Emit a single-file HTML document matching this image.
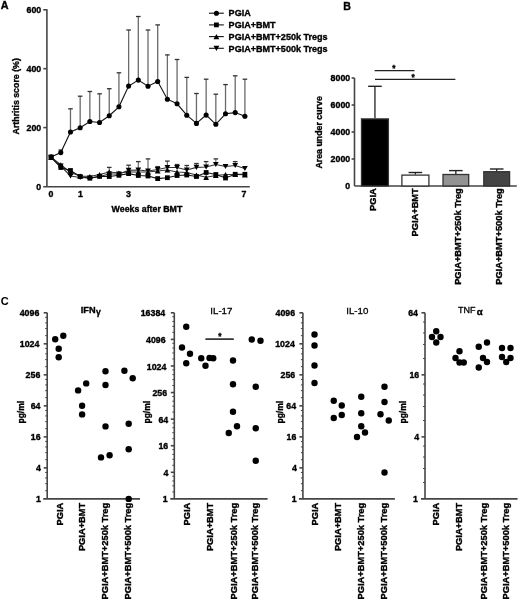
<!DOCTYPE html>
<html><head><meta charset="utf-8"><style>
html,body{margin:0;padding:0;background:#fff;}
body{width:520px;height:600px;overflow:hidden;}
svg{display:block;font-family:"Liberation Sans",sans-serif;filter:blur(0.3px);}
</style></head><body>
<svg width="520" height="600" viewBox="0 0 520 600">
<rect width="520" height="600" fill="#fff"/>
<text x="0.70" y="9.10" font-size="10.8" text-anchor="start" font-weight="bold" fill="#000" stroke="#000" stroke-width="0.35">A</text>
<text x="343.30" y="9.80" font-size="10.6" text-anchor="start" font-weight="bold" fill="#000" stroke="#000" stroke-width="0.35">B</text>
<text x="0.70" y="305.00" font-size="11.0" text-anchor="start" font-weight="bold" fill="#000" stroke="#000" stroke-width="0.05">C</text>
<line x1="46.90" y1="9.30" x2="46.90" y2="186.50" stroke="#454545" stroke-width="1.6"/>
<line x1="43.20" y1="186.80" x2="249.80" y2="186.80" stroke="#454545" stroke-width="1.6"/>
<line x1="43.30" y1="127.60" x2="46.90" y2="127.60" stroke="#454545" stroke-width="1.6"/>
<line x1="43.30" y1="68.70" x2="46.90" y2="68.70" stroke="#454545" stroke-width="1.6"/>
<line x1="43.30" y1="9.80" x2="46.90" y2="9.80" stroke="#454545" stroke-width="1.6"/>
<text x="41.20" y="189.85" font-size="8.8" text-anchor="end" font-weight="bold" fill="#000" stroke="#000" stroke-width="0.35">0</text>
<text x="41.20" y="130.95" font-size="8.8" text-anchor="end" font-weight="bold" fill="#000" stroke="#000" stroke-width="0.35">200</text>
<text x="41.20" y="72.05" font-size="8.8" text-anchor="end" font-weight="bold" fill="#000" stroke="#000" stroke-width="0.35">400</text>
<text x="41.20" y="13.15" font-size="8.8" text-anchor="end" font-weight="bold" fill="#000" stroke="#000" stroke-width="0.35">600</text>
<text x="51.00" y="196.55" font-size="8.8" text-anchor="middle" font-weight="bold" fill="#000" stroke="#000" stroke-width="0.35">0</text>
<text x="80.40" y="196.55" font-size="8.8" text-anchor="middle" font-weight="bold" fill="#000" stroke="#000" stroke-width="0.35">1</text>
<text x="128.40" y="196.55" font-size="8.8" text-anchor="middle" font-weight="bold" fill="#000" stroke="#000" stroke-width="0.35">3</text>
<text x="244.00" y="196.55" font-size="8.8" text-anchor="middle" font-weight="bold" fill="#000" stroke="#000" stroke-width="0.35">7</text>
<text x="111.60" y="212.15" font-size="8.8" text-anchor="start" font-weight="bold" fill="#000" stroke="#000" stroke-width="0.35">Weeks after BMT</text>
<text x="19.30" y="96.30" font-size="8.8" text-anchor="middle" font-weight="bold" fill="#000" stroke="#000" stroke-width="0.35" transform="rotate(-90 19.3 96.3)">Arthritis score (%)</text>
<line x1="60.79" y1="152.60" x2="60.79" y2="150.00" stroke="#6a6a6a" stroke-width="1.3"/>
<line x1="58.49" y1="150.00" x2="63.09" y2="150.00" stroke="#333" stroke-width="1.3"/>
<line x1="70.48" y1="132.00" x2="70.48" y2="108.80" stroke="#6a6a6a" stroke-width="1.3"/>
<line x1="68.18" y1="108.80" x2="72.78" y2="108.80" stroke="#333" stroke-width="1.3"/>
<line x1="80.17" y1="127.70" x2="80.17" y2="96.20" stroke="#6a6a6a" stroke-width="1.3"/>
<line x1="77.87" y1="96.20" x2="82.47" y2="96.20" stroke="#333" stroke-width="1.3"/>
<line x1="89.86" y1="121.50" x2="89.86" y2="91.50" stroke="#6a6a6a" stroke-width="1.3"/>
<line x1="87.56" y1="91.50" x2="92.16" y2="91.50" stroke="#333" stroke-width="1.3"/>
<line x1="99.55" y1="122.50" x2="99.55" y2="93.80" stroke="#6a6a6a" stroke-width="1.3"/>
<line x1="97.25" y1="93.80" x2="101.85" y2="93.80" stroke="#333" stroke-width="1.3"/>
<line x1="109.24" y1="115.70" x2="109.24" y2="88.70" stroke="#6a6a6a" stroke-width="1.3"/>
<line x1="106.94" y1="88.70" x2="111.54" y2="88.70" stroke="#333" stroke-width="1.3"/>
<line x1="118.93" y1="106.80" x2="118.93" y2="72.80" stroke="#6a6a6a" stroke-width="1.3"/>
<line x1="116.63" y1="72.80" x2="121.23" y2="72.80" stroke="#333" stroke-width="1.3"/>
<line x1="128.62" y1="86.10" x2="128.62" y2="30.00" stroke="#6a6a6a" stroke-width="1.3"/>
<line x1="126.32" y1="30.00" x2="130.92" y2="30.00" stroke="#333" stroke-width="1.3"/>
<line x1="138.31" y1="80.10" x2="138.31" y2="16.50" stroke="#6a6a6a" stroke-width="1.3"/>
<line x1="136.01" y1="16.50" x2="140.61" y2="16.50" stroke="#333" stroke-width="1.3"/>
<line x1="148.00" y1="86.20" x2="148.00" y2="30.00" stroke="#6a6a6a" stroke-width="1.3"/>
<line x1="145.70" y1="30.00" x2="150.30" y2="30.00" stroke="#333" stroke-width="1.3"/>
<line x1="157.69" y1="81.50" x2="157.69" y2="24.90" stroke="#6a6a6a" stroke-width="1.3"/>
<line x1="155.39" y1="24.90" x2="159.99" y2="24.90" stroke="#333" stroke-width="1.3"/>
<line x1="167.38" y1="99.20" x2="167.38" y2="54.90" stroke="#6a6a6a" stroke-width="1.3"/>
<line x1="165.08" y1="54.90" x2="169.68" y2="54.90" stroke="#333" stroke-width="1.3"/>
<line x1="177.07" y1="103.80" x2="177.07" y2="59.50" stroke="#6a6a6a" stroke-width="1.3"/>
<line x1="174.77" y1="59.50" x2="179.37" y2="59.50" stroke="#333" stroke-width="1.3"/>
<line x1="186.76" y1="115.20" x2="186.76" y2="77.40" stroke="#6a6a6a" stroke-width="1.3"/>
<line x1="184.46" y1="77.40" x2="189.06" y2="77.40" stroke="#333" stroke-width="1.3"/>
<line x1="196.45" y1="123.40" x2="196.45" y2="93.50" stroke="#6a6a6a" stroke-width="1.3"/>
<line x1="194.15" y1="93.50" x2="198.75" y2="93.50" stroke="#333" stroke-width="1.3"/>
<line x1="206.14" y1="115.10" x2="206.14" y2="79.20" stroke="#6a6a6a" stroke-width="1.3"/>
<line x1="203.84" y1="79.20" x2="208.44" y2="79.20" stroke="#333" stroke-width="1.3"/>
<line x1="215.83" y1="124.30" x2="215.83" y2="94.20" stroke="#6a6a6a" stroke-width="1.3"/>
<line x1="213.53" y1="94.20" x2="218.13" y2="94.20" stroke="#333" stroke-width="1.3"/>
<line x1="225.52" y1="113.80" x2="225.52" y2="84.60" stroke="#6a6a6a" stroke-width="1.3"/>
<line x1="223.22" y1="84.60" x2="227.82" y2="84.60" stroke="#333" stroke-width="1.3"/>
<line x1="235.21" y1="112.60" x2="235.21" y2="75.80" stroke="#6a6a6a" stroke-width="1.3"/>
<line x1="232.91" y1="75.80" x2="237.51" y2="75.80" stroke="#333" stroke-width="1.3"/>
<line x1="244.90" y1="116.20" x2="244.90" y2="79.20" stroke="#6a6a6a" stroke-width="1.3"/>
<line x1="242.60" y1="79.20" x2="247.20" y2="79.20" stroke="#333" stroke-width="1.3"/>
<line x1="109.24" y1="172.00" x2="109.24" y2="167.40" stroke="#6a6a6a" stroke-width="1.2"/>
<line x1="106.94" y1="167.40" x2="111.54" y2="167.40" stroke="#333" stroke-width="1.3"/>
<line x1="128.62" y1="170.40" x2="128.62" y2="165.20" stroke="#6a6a6a" stroke-width="1.2"/>
<line x1="126.32" y1="165.20" x2="130.92" y2="165.20" stroke="#333" stroke-width="1.3"/>
<line x1="138.31" y1="170.00" x2="138.31" y2="161.60" stroke="#6a6a6a" stroke-width="1.2"/>
<line x1="136.01" y1="161.60" x2="140.61" y2="161.60" stroke="#333" stroke-width="1.3"/>
<line x1="148.00" y1="171.00" x2="148.00" y2="158.90" stroke="#6a6a6a" stroke-width="1.2"/>
<line x1="145.70" y1="158.90" x2="150.30" y2="158.90" stroke="#333" stroke-width="1.3"/>
<line x1="157.69" y1="169.50" x2="157.69" y2="166.60" stroke="#6a6a6a" stroke-width="1.2"/>
<line x1="155.39" y1="166.60" x2="159.99" y2="166.60" stroke="#333" stroke-width="1.3"/>
<line x1="167.38" y1="167.50" x2="167.38" y2="161.10" stroke="#6a6a6a" stroke-width="1.2"/>
<line x1="165.08" y1="161.10" x2="169.68" y2="161.10" stroke="#333" stroke-width="1.3"/>
<line x1="177.07" y1="167.50" x2="177.07" y2="164.50" stroke="#6a6a6a" stroke-width="1.2"/>
<line x1="174.77" y1="164.50" x2="179.37" y2="164.50" stroke="#333" stroke-width="1.3"/>
<line x1="186.76" y1="170.00" x2="186.76" y2="165.50" stroke="#6a6a6a" stroke-width="1.2"/>
<line x1="184.46" y1="165.50" x2="189.06" y2="165.50" stroke="#333" stroke-width="1.3"/>
<line x1="196.45" y1="167.40" x2="196.45" y2="163.50" stroke="#6a6a6a" stroke-width="1.2"/>
<line x1="194.15" y1="163.50" x2="198.75" y2="163.50" stroke="#333" stroke-width="1.3"/>
<line x1="206.14" y1="167.00" x2="206.14" y2="161.60" stroke="#6a6a6a" stroke-width="1.2"/>
<line x1="203.84" y1="161.60" x2="208.44" y2="161.60" stroke="#333" stroke-width="1.3"/>
<line x1="215.83" y1="164.50" x2="215.83" y2="158.90" stroke="#6a6a6a" stroke-width="1.2"/>
<line x1="213.53" y1="158.90" x2="218.13" y2="158.90" stroke="#333" stroke-width="1.3"/>
<line x1="225.52" y1="166.50" x2="225.52" y2="165.00" stroke="#6a6a6a" stroke-width="1.2"/>
<line x1="223.22" y1="165.00" x2="227.82" y2="165.00" stroke="#333" stroke-width="1.3"/>
<line x1="235.21" y1="165.50" x2="235.21" y2="161.60" stroke="#6a6a6a" stroke-width="1.2"/>
<line x1="232.91" y1="161.60" x2="237.51" y2="161.60" stroke="#333" stroke-width="1.3"/>
<polyline points="51.10,157.30 60.79,164.80 70.48,172.50 80.17,176.00 89.86,176.50 99.55,174.50 109.24,172.00 118.93,173.00 128.62,172.00 138.31,172.00 148.00,172.00 157.69,171.00 167.38,170.00 177.07,172.00 186.76,172.50 196.45,175.00 206.14,177.30 215.83,175.50 225.52,174.50 235.21,174.50 244.90,174.80" fill="none" stroke="#333" stroke-width="1.1"/>
<polyline points="51.10,157.30 60.79,166.00 70.48,176.00 80.17,177.50 89.86,178.00 99.55,176.50 109.24,174.00 118.93,174.00 128.62,170.40 138.31,170.00 148.00,171.00 157.69,169.50 167.38,167.50 177.07,167.50 186.76,170.00 196.45,167.40 206.14,167.00 215.83,164.50 225.52,166.50 235.21,165.50 244.90,168.50" fill="none" stroke="#333" stroke-width="1.1"/>
<polyline points="51.10,157.30 60.79,167.50 70.48,170.50 80.17,176.50 89.86,178.20 99.55,176.40 109.24,176.50 118.93,175.30 128.62,173.60 138.31,175.50 148.00,176.00 157.69,178.60 167.38,177.70 177.07,175.50 186.76,175.00 196.45,176.50 206.14,172.50 215.83,174.50 225.52,178.00 235.21,174.30 244.90,174.30" fill="none" stroke="#111" stroke-width="1.1"/>
<polyline points="51.10,156.90 60.79,152.60 70.48,132.00 80.17,127.70 89.86,121.50 99.55,122.50 109.24,115.70 118.93,106.80 128.62,86.10 138.31,80.10 148.00,86.20 157.69,81.50 167.38,99.20 177.07,103.80 186.76,115.20 196.45,123.40 206.14,115.10 215.83,124.30 225.52,113.80 235.21,112.60 244.90,116.20" fill="none" stroke="#111" stroke-width="1.1"/>
<path d="M48.20,159.91L54.00,159.91L51.10,154.69Z" fill="#000"/>
<path d="M57.89,167.41L63.69,167.41L60.79,162.19Z" fill="#000"/>
<path d="M67.58,175.11L73.38,175.11L70.48,169.89Z" fill="#000"/>
<path d="M77.27,178.61L83.07,178.61L80.17,173.39Z" fill="#000"/>
<path d="M86.96,179.11L92.76,179.11L89.86,173.89Z" fill="#000"/>
<path d="M96.65,177.11L102.45,177.11L99.55,171.89Z" fill="#000"/>
<path d="M106.34,174.61L112.14,174.61L109.24,169.39Z" fill="#000"/>
<path d="M116.03,175.61L121.83,175.61L118.93,170.39Z" fill="#000"/>
<path d="M125.72,174.61L131.52,174.61L128.62,169.39Z" fill="#000"/>
<path d="M135.41,174.61L141.21,174.61L138.31,169.39Z" fill="#000"/>
<path d="M145.10,174.61L150.90,174.61L148.00,169.39Z" fill="#000"/>
<path d="M154.79,173.61L160.59,173.61L157.69,168.39Z" fill="#000"/>
<path d="M164.48,172.61L170.28,172.61L167.38,167.39Z" fill="#000"/>
<path d="M174.17,174.61L179.97,174.61L177.07,169.39Z" fill="#000"/>
<path d="M183.86,175.11L189.66,175.11L186.76,169.89Z" fill="#000"/>
<path d="M193.55,177.61L199.35,177.61L196.45,172.39Z" fill="#000"/>
<path d="M203.24,179.91L209.04,179.91L206.14,174.69Z" fill="#000"/>
<path d="M212.93,178.11L218.73,178.11L215.83,172.89Z" fill="#000"/>
<path d="M222.62,177.11L228.42,177.11L225.52,171.89Z" fill="#000"/>
<path d="M232.31,177.11L238.11,177.11L235.21,171.89Z" fill="#000"/>
<path d="M242.00,177.41L247.80,177.41L244.90,172.19Z" fill="#000"/>
<path d="M48.20,154.69L54.00,154.69L51.10,159.91Z" fill="#000"/>
<path d="M57.89,163.39L63.69,163.39L60.79,168.61Z" fill="#000"/>
<path d="M67.58,173.39L73.38,173.39L70.48,178.61Z" fill="#000"/>
<path d="M77.27,174.89L83.07,174.89L80.17,180.11Z" fill="#000"/>
<path d="M86.96,175.39L92.76,175.39L89.86,180.61Z" fill="#000"/>
<path d="M96.65,173.89L102.45,173.89L99.55,179.11Z" fill="#000"/>
<path d="M106.34,171.39L112.14,171.39L109.24,176.61Z" fill="#000"/>
<path d="M116.03,171.39L121.83,171.39L118.93,176.61Z" fill="#000"/>
<path d="M125.72,167.79L131.52,167.79L128.62,173.01Z" fill="#000"/>
<path d="M135.41,167.39L141.21,167.39L138.31,172.61Z" fill="#000"/>
<path d="M145.10,168.39L150.90,168.39L148.00,173.61Z" fill="#000"/>
<path d="M154.79,166.89L160.59,166.89L157.69,172.11Z" fill="#000"/>
<path d="M164.48,164.89L170.28,164.89L167.38,170.11Z" fill="#000"/>
<path d="M174.17,164.89L179.97,164.89L177.07,170.11Z" fill="#000"/>
<path d="M183.86,167.39L189.66,167.39L186.76,172.61Z" fill="#000"/>
<path d="M193.55,164.79L199.35,164.79L196.45,170.01Z" fill="#000"/>
<path d="M203.24,164.39L209.04,164.39L206.14,169.61Z" fill="#000"/>
<path d="M212.93,161.89L218.73,161.89L215.83,167.11Z" fill="#000"/>
<path d="M222.62,163.89L228.42,163.89L225.52,169.11Z" fill="#000"/>
<path d="M232.31,162.89L238.11,162.89L235.21,168.11Z" fill="#000"/>
<path d="M242.00,165.89L247.80,165.89L244.90,171.11Z" fill="#000"/>
<rect x="48.70" y="154.90" width="4.8" height="4.8" fill="#000"/>
<rect x="58.39" y="165.10" width="4.8" height="4.8" fill="#000"/>
<rect x="68.08" y="168.10" width="4.8" height="4.8" fill="#000"/>
<rect x="77.77" y="174.10" width="4.8" height="4.8" fill="#000"/>
<rect x="87.46" y="175.80" width="4.8" height="4.8" fill="#000"/>
<rect x="97.15" y="174.00" width="4.8" height="4.8" fill="#000"/>
<rect x="106.84" y="174.10" width="4.8" height="4.8" fill="#000"/>
<rect x="116.53" y="172.90" width="4.8" height="4.8" fill="#000"/>
<rect x="126.22" y="171.20" width="4.8" height="4.8" fill="#000"/>
<rect x="135.91" y="173.10" width="4.8" height="4.8" fill="#000"/>
<rect x="145.60" y="173.60" width="4.8" height="4.8" fill="#000"/>
<rect x="155.29" y="176.20" width="4.8" height="4.8" fill="#000"/>
<rect x="164.98" y="175.30" width="4.8" height="4.8" fill="#000"/>
<rect x="174.67" y="173.10" width="4.8" height="4.8" fill="#000"/>
<rect x="184.36" y="172.60" width="4.8" height="4.8" fill="#000"/>
<rect x="194.05" y="174.10" width="4.8" height="4.8" fill="#000"/>
<rect x="203.74" y="170.10" width="4.8" height="4.8" fill="#000"/>
<rect x="213.43" y="172.10" width="4.8" height="4.8" fill="#000"/>
<rect x="223.12" y="175.60" width="4.8" height="4.8" fill="#000"/>
<rect x="232.81" y="171.90" width="4.8" height="4.8" fill="#000"/>
<rect x="242.50" y="171.90" width="4.8" height="4.8" fill="#000"/>
<circle cx="51.10" cy="156.90" r="2.55" fill="#000"/>
<circle cx="60.79" cy="152.60" r="2.55" fill="#000"/>
<circle cx="70.48" cy="132.00" r="2.55" fill="#000"/>
<circle cx="80.17" cy="127.70" r="2.55" fill="#000"/>
<circle cx="89.86" cy="121.50" r="2.55" fill="#000"/>
<circle cx="99.55" cy="122.50" r="2.55" fill="#000"/>
<circle cx="109.24" cy="115.70" r="2.55" fill="#000"/>
<circle cx="118.93" cy="106.80" r="2.55" fill="#000"/>
<circle cx="128.62" cy="86.10" r="2.55" fill="#000"/>
<circle cx="138.31" cy="80.10" r="2.55" fill="#000"/>
<circle cx="148.00" cy="86.20" r="2.55" fill="#000"/>
<circle cx="157.69" cy="81.50" r="2.55" fill="#000"/>
<circle cx="167.38" cy="99.20" r="2.55" fill="#000"/>
<circle cx="177.07" cy="103.80" r="2.55" fill="#000"/>
<circle cx="186.76" cy="115.20" r="2.55" fill="#000"/>
<circle cx="196.45" cy="123.40" r="2.55" fill="#000"/>
<circle cx="206.14" cy="115.10" r="2.55" fill="#000"/>
<circle cx="215.83" cy="124.30" r="2.55" fill="#000"/>
<circle cx="225.52" cy="113.80" r="2.55" fill="#000"/>
<circle cx="235.21" cy="112.60" r="2.55" fill="#000"/>
<circle cx="244.90" cy="116.20" r="2.55" fill="#000"/>
<line x1="209.00" y1="13.20" x2="223.80" y2="13.20" stroke="#111" stroke-width="1.1"/>
<circle cx="216.40" cy="13.20" r="2.55" fill="#000"/>
<text x="228.60" y="16.44" font-size="9.05" text-anchor="start" font-weight="bold" fill="#000" stroke="#000" stroke-width="0.35">PGIA</text>
<line x1="209.00" y1="24.90" x2="223.80" y2="24.90" stroke="#111" stroke-width="1.1"/>
<rect x="214.00" y="22.50" width="4.8" height="4.8" fill="#000"/>
<text x="228.60" y="28.14" font-size="9.05" text-anchor="start" font-weight="bold" fill="#000" stroke="#000" stroke-width="0.35">PGIA+BMT</text>
<line x1="209.00" y1="36.60" x2="223.80" y2="36.60" stroke="#111" stroke-width="1.1"/>
<path d="M213.50,39.21L219.30,39.21L216.40,33.99Z" fill="#000"/>
<text x="228.60" y="39.84" font-size="9.05" text-anchor="start" font-weight="bold" fill="#000" stroke="#000" stroke-width="0.35">PGIA+BMT+250k Tregs</text>
<line x1="209.00" y1="48.30" x2="223.80" y2="48.30" stroke="#111" stroke-width="1.1"/>
<path d="M213.50,45.69L219.30,45.69L216.40,50.91Z" fill="#000"/>
<text x="228.60" y="51.54" font-size="9.05" text-anchor="start" font-weight="bold" fill="#000" stroke="#000" stroke-width="0.35">PGIA+BMT+500k Tregs</text>
<line x1="354.50" y1="78.00" x2="354.50" y2="186.00" stroke="#454545" stroke-width="1.6"/>
<line x1="354.50" y1="186.00" x2="516.80" y2="186.00" stroke="#454545" stroke-width="1.6"/>
<line x1="351.60" y1="159.00" x2="354.50" y2="159.00" stroke="#454545" stroke-width="1.6"/>
<line x1="351.60" y1="132.00" x2="354.50" y2="132.00" stroke="#454545" stroke-width="1.6"/>
<line x1="351.60" y1="105.00" x2="354.50" y2="105.00" stroke="#454545" stroke-width="1.6"/>
<line x1="351.60" y1="78.00" x2="354.50" y2="78.00" stroke="#454545" stroke-width="1.6"/>
<text x="350.20" y="189.15" font-size="8.8" text-anchor="end" font-weight="bold" fill="#000" stroke="#000" stroke-width="0.35">0</text>
<text x="350.20" y="162.15" font-size="8.8" text-anchor="end" font-weight="bold" fill="#000" stroke="#000" stroke-width="0.35">2000</text>
<text x="350.20" y="135.15" font-size="8.8" text-anchor="end" font-weight="bold" fill="#000" stroke="#000" stroke-width="0.35">4000</text>
<text x="350.20" y="108.15" font-size="8.8" text-anchor="end" font-weight="bold" fill="#000" stroke="#000" stroke-width="0.35">6000</text>
<text x="350.20" y="81.15" font-size="8.8" text-anchor="end" font-weight="bold" fill="#000" stroke="#000" stroke-width="0.35">8000</text>
<text x="322.00" y="132.40" font-size="8.8" text-anchor="middle" font-weight="bold" fill="#000" stroke="#000" stroke-width="0.35" transform="rotate(-90 322.0 132.4)">Area under curve</text>
<line x1="374.95" y1="118.30" x2="374.95" y2="86.30" stroke="#222" stroke-width="1.3"/>
<line x1="368.15" y1="86.30" x2="381.75" y2="86.30" stroke="#222" stroke-width="1.4"/>
<rect x="361.50" y="118.90" width="26.90" height="67.10" fill="#000" stroke="#333" stroke-width="1.3"/>
<line x1="415.40" y1="174.50" x2="415.40" y2="172.50" stroke="#222" stroke-width="1.3"/>
<line x1="408.60" y1="172.50" x2="422.20" y2="172.50" stroke="#222" stroke-width="1.4"/>
<rect x="401.90" y="175.10" width="27.00" height="10.90" fill="#fff" stroke="#333" stroke-width="1.3"/>
<line x1="455.85" y1="173.90" x2="455.85" y2="170.60" stroke="#222" stroke-width="1.3"/>
<line x1="449.05" y1="170.60" x2="462.65" y2="170.60" stroke="#222" stroke-width="1.4"/>
<rect x="443.00" y="174.50" width="25.70" height="11.50" fill="#939393" stroke="#333" stroke-width="1.3"/>
<line x1="496.70" y1="171.10" x2="496.70" y2="169.00" stroke="#222" stroke-width="1.3"/>
<line x1="489.90" y1="169.00" x2="503.50" y2="169.00" stroke="#222" stroke-width="1.4"/>
<rect x="483.80" y="171.70" width="25.80" height="14.30" fill="#444" stroke="#333" stroke-width="1.3"/>
<line x1="374.60" y1="70.70" x2="414.50" y2="70.70" stroke="#222" stroke-width="1.3"/>
<line x1="375.00" y1="79.40" x2="455.40" y2="79.40" stroke="#222" stroke-width="1.3"/>
<text x="393.80" y="70.70" font-size="8.3" text-anchor="middle" font-weight="bold" fill="#000" stroke="#000" stroke-width="0.35">*</text>
<text x="413.20" y="79.80" font-size="8.3" text-anchor="middle" font-weight="bold" fill="#000" stroke="#000" stroke-width="0.35">*</text>
<text x="376.30" y="188.20" font-size="9.3" text-anchor="end" font-weight="bold" fill="#000" stroke="#000" stroke-width="0.35" transform="rotate(-90 376.3 188.2)">PGIA</text>
<text x="418.40" y="188.20" font-size="9.3" text-anchor="end" font-weight="bold" fill="#000" stroke="#000" stroke-width="0.35" transform="rotate(-90 418.4 188.2)">PGIA+BMT</text>
<text x="460.60" y="188.20" font-size="9.3" text-anchor="end" font-weight="bold" fill="#000" stroke="#000" stroke-width="0.35" transform="rotate(-90 460.6 188.2)">PGIA+BMT+250k Treg</text>
<text x="502.00" y="188.20" font-size="9.3" text-anchor="end" font-weight="bold" fill="#000" stroke="#000" stroke-width="0.35" transform="rotate(-90 502.0 188.2)">PGIA+BMT+500k Treg</text>
<line x1="47.20" y1="312.80" x2="47.20" y2="498.90" stroke="#454545" stroke-width="1.6"/>
<line x1="43.20" y1="498.90" x2="140.00" y2="498.90" stroke="#454545" stroke-width="1.6"/>
<text x="40.80" y="502.45" font-size="8.8" text-anchor="end" font-weight="bold" fill="#000" stroke="#000" stroke-width="0.35">1</text>
<line x1="45.20" y1="472.47" x2="47.20" y2="472.47" stroke="#454545" stroke-width="1.0"/>
<line x1="45.20" y1="477.96" x2="47.20" y2="477.96" stroke="#454545" stroke-width="1.0"/>
<line x1="45.20" y1="483.70" x2="47.20" y2="483.70" stroke="#454545" stroke-width="1.0"/>
<line x1="45.20" y1="490.71" x2="47.20" y2="490.71" stroke="#454545" stroke-width="1.0"/>
<line x1="43.70" y1="467.88" x2="47.20" y2="467.88" stroke="#454545" stroke-width="1.6"/>
<text x="40.80" y="471.43" font-size="8.8" text-anchor="end" font-weight="bold" fill="#000" stroke="#000" stroke-width="0.35">4</text>
<line x1="45.20" y1="441.46" x2="47.20" y2="441.46" stroke="#454545" stroke-width="1.0"/>
<line x1="45.20" y1="446.95" x2="47.20" y2="446.95" stroke="#454545" stroke-width="1.0"/>
<line x1="45.20" y1="452.69" x2="47.20" y2="452.69" stroke="#454545" stroke-width="1.0"/>
<line x1="45.20" y1="459.69" x2="47.20" y2="459.69" stroke="#454545" stroke-width="1.0"/>
<line x1="43.70" y1="436.87" x2="47.20" y2="436.87" stroke="#454545" stroke-width="1.6"/>
<text x="40.60" y="440.42" font-size="8.8" text-anchor="end" font-weight="bold" fill="#000" stroke="#000" stroke-width="0.35">16</text>
<line x1="45.20" y1="410.44" x2="47.20" y2="410.44" stroke="#454545" stroke-width="1.0"/>
<line x1="45.20" y1="415.93" x2="47.20" y2="415.93" stroke="#454545" stroke-width="1.0"/>
<line x1="45.20" y1="421.67" x2="47.20" y2="421.67" stroke="#454545" stroke-width="1.0"/>
<line x1="45.20" y1="428.68" x2="47.20" y2="428.68" stroke="#454545" stroke-width="1.0"/>
<line x1="43.70" y1="405.85" x2="47.20" y2="405.85" stroke="#454545" stroke-width="1.6"/>
<text x="40.50" y="409.40" font-size="8.8" text-anchor="end" font-weight="bold" fill="#000" stroke="#000" stroke-width="0.35">64</text>
<line x1="45.20" y1="379.42" x2="47.20" y2="379.42" stroke="#454545" stroke-width="1.0"/>
<line x1="45.20" y1="384.91" x2="47.20" y2="384.91" stroke="#454545" stroke-width="1.0"/>
<line x1="45.20" y1="390.65" x2="47.20" y2="390.65" stroke="#454545" stroke-width="1.0"/>
<line x1="45.20" y1="397.66" x2="47.20" y2="397.66" stroke="#454545" stroke-width="1.0"/>
<line x1="43.70" y1="374.83" x2="47.20" y2="374.83" stroke="#454545" stroke-width="1.6"/>
<text x="40.30" y="378.38" font-size="8.8" text-anchor="end" font-weight="bold" fill="#000" stroke="#000" stroke-width="0.35">256</text>
<line x1="45.20" y1="348.41" x2="47.20" y2="348.41" stroke="#454545" stroke-width="1.0"/>
<line x1="45.20" y1="353.90" x2="47.20" y2="353.90" stroke="#454545" stroke-width="1.0"/>
<line x1="45.20" y1="359.64" x2="47.20" y2="359.64" stroke="#454545" stroke-width="1.0"/>
<line x1="45.20" y1="366.64" x2="47.20" y2="366.64" stroke="#454545" stroke-width="1.0"/>
<line x1="43.70" y1="343.82" x2="47.20" y2="343.82" stroke="#454545" stroke-width="1.6"/>
<text x="39.40" y="347.37" font-size="8.8" text-anchor="end" font-weight="bold" fill="#000" stroke="#000" stroke-width="0.35">1024</text>
<line x1="45.20" y1="317.39" x2="47.20" y2="317.39" stroke="#454545" stroke-width="1.0"/>
<line x1="45.20" y1="322.88" x2="47.20" y2="322.88" stroke="#454545" stroke-width="1.0"/>
<line x1="45.20" y1="328.62" x2="47.20" y2="328.62" stroke="#454545" stroke-width="1.0"/>
<line x1="45.20" y1="335.63" x2="47.20" y2="335.63" stroke="#454545" stroke-width="1.0"/>
<line x1="43.70" y1="312.80" x2="47.20" y2="312.80" stroke="#454545" stroke-width="1.6"/>
<text x="39.30" y="316.35" font-size="8.8" text-anchor="end" font-weight="bold" fill="#000" stroke="#000" stroke-width="0.35">4096</text>
<circle cx="55.20" cy="339.30" r="3.2" fill="#000"/>
<circle cx="63.30" cy="335.80" r="3.2" fill="#000"/>
<circle cx="58.70" cy="348.70" r="3.2" fill="#000"/>
<circle cx="58.70" cy="357.30" r="3.2" fill="#000"/>
<circle cx="78.10" cy="390.40" r="3.2" fill="#000"/>
<circle cx="86.20" cy="383.40" r="3.2" fill="#000"/>
<circle cx="82.10" cy="405.80" r="3.2" fill="#000"/>
<circle cx="82.10" cy="414.40" r="3.2" fill="#000"/>
<circle cx="105.50" cy="371.30" r="3.2" fill="#000"/>
<circle cx="105.50" cy="385.00" r="3.2" fill="#000"/>
<circle cx="105.50" cy="426.40" r="3.2" fill="#000"/>
<circle cx="101.00" cy="457.40" r="3.2" fill="#000"/>
<circle cx="109.60" cy="455.20" r="3.2" fill="#000"/>
<circle cx="124.40" cy="370.80" r="3.2" fill="#000"/>
<circle cx="132.70" cy="378.30" r="3.2" fill="#000"/>
<circle cx="128.70" cy="423.70" r="3.2" fill="#000"/>
<circle cx="128.70" cy="449.30" r="3.2" fill="#000"/>
<circle cx="128.70" cy="498.90" r="3.2" fill="#000"/>
<text x="62.80" y="502.80" font-size="9.3" text-anchor="end" font-weight="bold" fill="#000" stroke="#000" stroke-width="0.35" transform="rotate(-90 62.8 502.8)">PGIA</text>
<text x="85.10" y="502.80" font-size="9.3" text-anchor="end" font-weight="bold" fill="#000" stroke="#000" stroke-width="0.35" transform="rotate(-90 85.1 502.8)">PGIA+BMT</text>
<text x="107.90" y="502.80" font-size="9.3" text-anchor="end" font-weight="bold" fill="#000" stroke="#000" stroke-width="0.35" transform="rotate(-90 107.9 502.8)">PGIA+BMT+250k Treg</text>
<text x="131.00" y="502.80" font-size="9.3" text-anchor="end" font-weight="bold" fill="#000" stroke="#000" stroke-width="0.35" transform="rotate(-90 131.0 502.8)">PGIA+BMT+500k Treg</text>
<text x="80.80" y="313.09" font-size="9.2" text-anchor="start" font-weight="bold" fill="#000" stroke="#000" stroke-width="0.35">IFN<tspan font-size="8.6" dx="0.3" dy="1.6">γ</tspan></text>
<text x="24.00" y="412.20" font-size="8.5" text-anchor="middle" font-weight="bold" fill="#000" stroke="#000" stroke-width="0.35" transform="rotate(-90 24.0 412.2)">pg/ml</text>
<line x1="174.30" y1="312.80" x2="174.30" y2="498.90" stroke="#454545" stroke-width="1.6"/>
<line x1="170.30" y1="498.90" x2="267.60" y2="498.90" stroke="#454545" stroke-width="1.6"/>
<text x="167.70" y="502.45" font-size="8.8" text-anchor="end" font-weight="bold" fill="#000" stroke="#000" stroke-width="0.35">1</text>
<line x1="172.30" y1="476.25" x2="174.30" y2="476.25" stroke="#454545" stroke-width="1.0"/>
<line x1="172.30" y1="480.95" x2="174.30" y2="480.95" stroke="#454545" stroke-width="1.0"/>
<line x1="172.30" y1="485.87" x2="174.30" y2="485.87" stroke="#454545" stroke-width="1.0"/>
<line x1="172.30" y1="491.88" x2="174.30" y2="491.88" stroke="#454545" stroke-width="1.0"/>
<line x1="170.80" y1="472.31" x2="174.30" y2="472.31" stroke="#454545" stroke-width="1.6"/>
<text x="168.30" y="475.86" font-size="8.8" text-anchor="end" font-weight="bold" fill="#000" stroke="#000" stroke-width="0.35">4</text>
<line x1="172.30" y1="449.66" x2="174.30" y2="449.66" stroke="#454545" stroke-width="1.0"/>
<line x1="172.30" y1="454.37" x2="174.30" y2="454.37" stroke="#454545" stroke-width="1.0"/>
<line x1="172.30" y1="459.29" x2="174.30" y2="459.29" stroke="#454545" stroke-width="1.0"/>
<line x1="172.30" y1="465.30" x2="174.30" y2="465.30" stroke="#454545" stroke-width="1.0"/>
<line x1="170.80" y1="445.73" x2="174.30" y2="445.73" stroke="#454545" stroke-width="1.6"/>
<text x="168.20" y="449.28" font-size="8.8" text-anchor="end" font-weight="bold" fill="#000" stroke="#000" stroke-width="0.35">16</text>
<line x1="172.30" y1="423.08" x2="174.30" y2="423.08" stroke="#454545" stroke-width="1.0"/>
<line x1="172.30" y1="427.78" x2="174.30" y2="427.78" stroke="#454545" stroke-width="1.0"/>
<line x1="172.30" y1="432.70" x2="174.30" y2="432.70" stroke="#454545" stroke-width="1.0"/>
<line x1="172.30" y1="438.71" x2="174.30" y2="438.71" stroke="#454545" stroke-width="1.0"/>
<line x1="170.80" y1="419.14" x2="174.30" y2="419.14" stroke="#454545" stroke-width="1.6"/>
<text x="168.20" y="422.69" font-size="8.8" text-anchor="end" font-weight="bold" fill="#000" stroke="#000" stroke-width="0.35">64</text>
<line x1="172.30" y1="396.49" x2="174.30" y2="396.49" stroke="#454545" stroke-width="1.0"/>
<line x1="172.30" y1="401.20" x2="174.30" y2="401.20" stroke="#454545" stroke-width="1.0"/>
<line x1="172.30" y1="406.12" x2="174.30" y2="406.12" stroke="#454545" stroke-width="1.0"/>
<line x1="172.30" y1="412.12" x2="174.30" y2="412.12" stroke="#454545" stroke-width="1.0"/>
<line x1="170.80" y1="392.56" x2="174.30" y2="392.56" stroke="#454545" stroke-width="1.6"/>
<text x="167.10" y="396.11" font-size="8.8" text-anchor="end" font-weight="bold" fill="#000" stroke="#000" stroke-width="0.35">256</text>
<line x1="172.30" y1="369.91" x2="174.30" y2="369.91" stroke="#454545" stroke-width="1.0"/>
<line x1="172.30" y1="374.61" x2="174.30" y2="374.61" stroke="#454545" stroke-width="1.0"/>
<line x1="172.30" y1="379.53" x2="174.30" y2="379.53" stroke="#454545" stroke-width="1.0"/>
<line x1="172.30" y1="385.54" x2="174.30" y2="385.54" stroke="#454545" stroke-width="1.0"/>
<line x1="170.80" y1="365.97" x2="174.30" y2="365.97" stroke="#454545" stroke-width="1.6"/>
<text x="166.40" y="369.52" font-size="8.8" text-anchor="end" font-weight="bold" fill="#000" stroke="#000" stroke-width="0.35">1024</text>
<line x1="172.30" y1="343.32" x2="174.30" y2="343.32" stroke="#454545" stroke-width="1.0"/>
<line x1="172.30" y1="348.03" x2="174.30" y2="348.03" stroke="#454545" stroke-width="1.0"/>
<line x1="172.30" y1="352.94" x2="174.30" y2="352.94" stroke="#454545" stroke-width="1.0"/>
<line x1="172.30" y1="358.95" x2="174.30" y2="358.95" stroke="#454545" stroke-width="1.0"/>
<line x1="170.80" y1="339.39" x2="174.30" y2="339.39" stroke="#454545" stroke-width="1.6"/>
<text x="165.60" y="342.94" font-size="8.8" text-anchor="end" font-weight="bold" fill="#000" stroke="#000" stroke-width="0.35">4096</text>
<line x1="172.30" y1="316.73" x2="174.30" y2="316.73" stroke="#454545" stroke-width="1.0"/>
<line x1="172.30" y1="321.44" x2="174.30" y2="321.44" stroke="#454545" stroke-width="1.0"/>
<line x1="172.30" y1="326.36" x2="174.30" y2="326.36" stroke="#454545" stroke-width="1.0"/>
<line x1="172.30" y1="332.37" x2="174.30" y2="332.37" stroke="#454545" stroke-width="1.0"/>
<line x1="170.80" y1="312.80" x2="174.30" y2="312.80" stroke="#454545" stroke-width="1.6"/>
<text x="165.20" y="316.35" font-size="8.8" text-anchor="end" font-weight="bold" fill="#000" stroke="#000" stroke-width="0.35">16384</text>
<circle cx="186.25" cy="326.75" r="3.2" fill="#000"/>
<circle cx="182.00" cy="347.50" r="3.2" fill="#000"/>
<circle cx="190.00" cy="353.75" r="3.2" fill="#000"/>
<circle cx="186.25" cy="363.25" r="3.2" fill="#000"/>
<circle cx="201.25" cy="358.25" r="3.2" fill="#000"/>
<circle cx="205.50" cy="365.75" r="3.2" fill="#000"/>
<circle cx="209.50" cy="358.00" r="3.2" fill="#000"/>
<circle cx="213.25" cy="358.25" r="3.2" fill="#000"/>
<circle cx="233.00" cy="360.50" r="3.2" fill="#000"/>
<circle cx="233.00" cy="384.25" r="3.2" fill="#000"/>
<circle cx="233.00" cy="411.75" r="3.2" fill="#000"/>
<circle cx="237.00" cy="426.25" r="3.2" fill="#000"/>
<circle cx="228.75" cy="433.00" r="3.2" fill="#000"/>
<circle cx="251.75" cy="339.50" r="3.2" fill="#000"/>
<circle cx="260.50" cy="340.75" r="3.2" fill="#000"/>
<circle cx="255.75" cy="386.75" r="3.2" fill="#000"/>
<circle cx="255.75" cy="428.25" r="3.2" fill="#000"/>
<circle cx="255.75" cy="460.75" r="3.2" fill="#000"/>
<text x="189.60" y="502.80" font-size="9.3" text-anchor="end" font-weight="bold" fill="#000" stroke="#000" stroke-width="0.35" transform="rotate(-90 189.6 502.8)">PGIA</text>
<text x="212.60" y="502.80" font-size="9.3" text-anchor="end" font-weight="bold" fill="#000" stroke="#000" stroke-width="0.35" transform="rotate(-90 212.6 502.8)">PGIA+BMT</text>
<text x="236.80" y="502.80" font-size="9.3" text-anchor="end" font-weight="bold" fill="#000" stroke="#000" stroke-width="0.35" transform="rotate(-90 236.8 502.8)">PGIA+BMT+250k Treg</text>
<text x="258.40" y="502.80" font-size="9.3" text-anchor="end" font-weight="bold" fill="#000" stroke="#000" stroke-width="0.35" transform="rotate(-90 258.4 502.8)">PGIA+BMT+500k Treg</text>
<text x="210.30" y="313.90" font-size="9.7" text-anchor="start" font-weight="normal" fill="#000" stroke="#000" stroke-width="0.3">IL-17</text>
<line x1="205.40" y1="339.10" x2="233.80" y2="339.10" stroke="#111" stroke-width="1.5"/>
<text x="219.80" y="338.80" font-size="8.3" text-anchor="middle" font-weight="bold" fill="#000" stroke="#000" stroke-width="0.35">*</text>
<text x="150.00" y="412.20" font-size="8.5" text-anchor="middle" font-weight="bold" fill="#000" stroke="#000" stroke-width="0.35" transform="rotate(-90 150.0 412.2)">pg/ml</text>
<line x1="302.90" y1="312.80" x2="302.90" y2="498.90" stroke="#454545" stroke-width="1.6"/>
<line x1="298.90" y1="498.90" x2="394.90" y2="498.90" stroke="#454545" stroke-width="1.6"/>
<text x="296.70" y="502.45" font-size="8.8" text-anchor="end" font-weight="bold" fill="#000" stroke="#000" stroke-width="0.35">1</text>
<line x1="300.90" y1="472.47" x2="302.90" y2="472.47" stroke="#454545" stroke-width="1.0"/>
<line x1="300.90" y1="477.96" x2="302.90" y2="477.96" stroke="#454545" stroke-width="1.0"/>
<line x1="300.90" y1="483.70" x2="302.90" y2="483.70" stroke="#454545" stroke-width="1.0"/>
<line x1="300.90" y1="490.71" x2="302.90" y2="490.71" stroke="#454545" stroke-width="1.0"/>
<line x1="299.40" y1="467.88" x2="302.90" y2="467.88" stroke="#454545" stroke-width="1.6"/>
<text x="297.00" y="471.43" font-size="8.8" text-anchor="end" font-weight="bold" fill="#000" stroke="#000" stroke-width="0.35">4</text>
<line x1="300.90" y1="441.46" x2="302.90" y2="441.46" stroke="#454545" stroke-width="1.0"/>
<line x1="300.90" y1="446.95" x2="302.90" y2="446.95" stroke="#454545" stroke-width="1.0"/>
<line x1="300.90" y1="452.69" x2="302.90" y2="452.69" stroke="#454545" stroke-width="1.0"/>
<line x1="300.90" y1="459.69" x2="302.90" y2="459.69" stroke="#454545" stroke-width="1.0"/>
<line x1="299.40" y1="436.87" x2="302.90" y2="436.87" stroke="#454545" stroke-width="1.6"/>
<text x="296.40" y="440.42" font-size="8.8" text-anchor="end" font-weight="bold" fill="#000" stroke="#000" stroke-width="0.35">16</text>
<line x1="300.90" y1="410.44" x2="302.90" y2="410.44" stroke="#454545" stroke-width="1.0"/>
<line x1="300.90" y1="415.93" x2="302.90" y2="415.93" stroke="#454545" stroke-width="1.0"/>
<line x1="300.90" y1="421.67" x2="302.90" y2="421.67" stroke="#454545" stroke-width="1.0"/>
<line x1="300.90" y1="428.68" x2="302.90" y2="428.68" stroke="#454545" stroke-width="1.0"/>
<line x1="299.40" y1="405.85" x2="302.90" y2="405.85" stroke="#454545" stroke-width="1.6"/>
<text x="296.10" y="409.40" font-size="8.8" text-anchor="end" font-weight="bold" fill="#000" stroke="#000" stroke-width="0.35">64</text>
<line x1="300.90" y1="379.42" x2="302.90" y2="379.42" stroke="#454545" stroke-width="1.0"/>
<line x1="300.90" y1="384.91" x2="302.90" y2="384.91" stroke="#454545" stroke-width="1.0"/>
<line x1="300.90" y1="390.65" x2="302.90" y2="390.65" stroke="#454545" stroke-width="1.0"/>
<line x1="300.90" y1="397.66" x2="302.90" y2="397.66" stroke="#454545" stroke-width="1.0"/>
<line x1="299.40" y1="374.83" x2="302.90" y2="374.83" stroke="#454545" stroke-width="1.6"/>
<text x="295.20" y="378.38" font-size="8.8" text-anchor="end" font-weight="bold" fill="#000" stroke="#000" stroke-width="0.35">256</text>
<line x1="300.90" y1="348.41" x2="302.90" y2="348.41" stroke="#454545" stroke-width="1.0"/>
<line x1="300.90" y1="353.90" x2="302.90" y2="353.90" stroke="#454545" stroke-width="1.0"/>
<line x1="300.90" y1="359.64" x2="302.90" y2="359.64" stroke="#454545" stroke-width="1.0"/>
<line x1="300.90" y1="366.64" x2="302.90" y2="366.64" stroke="#454545" stroke-width="1.0"/>
<line x1="299.40" y1="343.82" x2="302.90" y2="343.82" stroke="#454545" stroke-width="1.6"/>
<text x="294.80" y="347.37" font-size="8.8" text-anchor="end" font-weight="bold" fill="#000" stroke="#000" stroke-width="0.35">1024</text>
<line x1="300.90" y1="317.39" x2="302.90" y2="317.39" stroke="#454545" stroke-width="1.0"/>
<line x1="300.90" y1="322.88" x2="302.90" y2="322.88" stroke="#454545" stroke-width="1.0"/>
<line x1="300.90" y1="328.62" x2="302.90" y2="328.62" stroke="#454545" stroke-width="1.0"/>
<line x1="300.90" y1="335.63" x2="302.90" y2="335.63" stroke="#454545" stroke-width="1.0"/>
<line x1="299.40" y1="312.80" x2="302.90" y2="312.80" stroke="#454545" stroke-width="1.6"/>
<text x="295.10" y="316.35" font-size="8.8" text-anchor="end" font-weight="bold" fill="#000" stroke="#000" stroke-width="0.35">4096</text>
<circle cx="314.50" cy="334.50" r="3.2" fill="#000"/>
<circle cx="314.50" cy="345.50" r="3.2" fill="#000"/>
<circle cx="314.50" cy="365.50" r="3.2" fill="#000"/>
<circle cx="314.50" cy="383.00" r="3.2" fill="#000"/>
<circle cx="333.75" cy="400.75" r="3.2" fill="#000"/>
<circle cx="341.75" cy="405.50" r="3.2" fill="#000"/>
<circle cx="341.75" cy="415.00" r="3.2" fill="#000"/>
<circle cx="333.75" cy="418.00" r="3.2" fill="#000"/>
<circle cx="361.25" cy="396.75" r="3.2" fill="#000"/>
<circle cx="361.25" cy="413.25" r="3.2" fill="#000"/>
<circle cx="361.25" cy="426.25" r="3.2" fill="#000"/>
<circle cx="365.00" cy="432.50" r="3.2" fill="#000"/>
<circle cx="357.00" cy="437.00" r="3.2" fill="#000"/>
<circle cx="384.50" cy="386.75" r="3.2" fill="#000"/>
<circle cx="384.50" cy="402.00" r="3.2" fill="#000"/>
<circle cx="380.50" cy="414.25" r="3.2" fill="#000"/>
<circle cx="388.75" cy="420.50" r="3.2" fill="#000"/>
<circle cx="384.50" cy="472.50" r="3.2" fill="#000"/>
<text x="318.20" y="502.80" font-size="9.3" text-anchor="end" font-weight="bold" fill="#000" stroke="#000" stroke-width="0.35" transform="rotate(-90 318.2 502.8)">PGIA</text>
<text x="341.30" y="502.80" font-size="9.3" text-anchor="end" font-weight="bold" fill="#000" stroke="#000" stroke-width="0.35" transform="rotate(-90 341.3 502.8)">PGIA+BMT</text>
<text x="364.20" y="502.80" font-size="9.3" text-anchor="end" font-weight="bold" fill="#000" stroke="#000" stroke-width="0.35" transform="rotate(-90 364.2 502.8)">PGIA+BMT+250k Treg</text>
<text x="386.90" y="502.80" font-size="9.3" text-anchor="end" font-weight="bold" fill="#000" stroke="#000" stroke-width="0.35" transform="rotate(-90 386.9 502.8)">PGIA+BMT+500k Treg</text>
<text x="346.20" y="313.90" font-size="9.7" text-anchor="start" font-weight="normal" fill="#000" stroke="#000" stroke-width="0.3">IL-10</text>
<text x="283.00" y="412.20" font-size="8.5" text-anchor="middle" font-weight="bold" fill="#000" stroke="#000" stroke-width="0.35" transform="rotate(-90 283.0 412.2)">pg/ml</text>
<line x1="425.00" y1="312.80" x2="425.00" y2="498.90" stroke="#454545" stroke-width="1.6"/>
<line x1="421.00" y1="498.90" x2="517.60" y2="498.90" stroke="#454545" stroke-width="1.6"/>
<text x="418.00" y="502.45" font-size="8.8" text-anchor="end" font-weight="bold" fill="#000" stroke="#000" stroke-width="0.35">1</text>
<line x1="423.00" y1="446.05" x2="425.00" y2="446.05" stroke="#454545" stroke-width="1.0"/>
<line x1="423.00" y1="457.03" x2="425.00" y2="457.03" stroke="#454545" stroke-width="1.0"/>
<line x1="423.00" y1="468.50" x2="425.00" y2="468.50" stroke="#454545" stroke-width="1.0"/>
<line x1="423.00" y1="482.52" x2="425.00" y2="482.52" stroke="#454545" stroke-width="1.0"/>
<line x1="421.50" y1="436.87" x2="425.00" y2="436.87" stroke="#454545" stroke-width="1.6"/>
<text x="419.20" y="440.42" font-size="8.8" text-anchor="end" font-weight="bold" fill="#000" stroke="#000" stroke-width="0.35">4</text>
<line x1="423.00" y1="384.01" x2="425.00" y2="384.01" stroke="#454545" stroke-width="1.0"/>
<line x1="423.00" y1="394.99" x2="425.00" y2="394.99" stroke="#454545" stroke-width="1.0"/>
<line x1="423.00" y1="406.47" x2="425.00" y2="406.47" stroke="#454545" stroke-width="1.0"/>
<line x1="423.00" y1="420.49" x2="425.00" y2="420.49" stroke="#454545" stroke-width="1.0"/>
<line x1="421.50" y1="374.83" x2="425.00" y2="374.83" stroke="#454545" stroke-width="1.6"/>
<text x="419.20" y="378.38" font-size="8.8" text-anchor="end" font-weight="bold" fill="#000" stroke="#000" stroke-width="0.35">16</text>
<line x1="423.00" y1="321.98" x2="425.00" y2="321.98" stroke="#454545" stroke-width="1.0"/>
<line x1="423.00" y1="332.96" x2="425.00" y2="332.96" stroke="#454545" stroke-width="1.0"/>
<line x1="423.00" y1="344.44" x2="425.00" y2="344.44" stroke="#454545" stroke-width="1.0"/>
<line x1="423.00" y1="358.46" x2="425.00" y2="358.46" stroke="#454545" stroke-width="1.0"/>
<line x1="421.50" y1="312.80" x2="425.00" y2="312.80" stroke="#454545" stroke-width="1.6"/>
<text x="418.00" y="316.35" font-size="8.8" text-anchor="end" font-weight="bold" fill="#000" stroke="#000" stroke-width="0.35">64</text>
<circle cx="436.25" cy="331.25" r="3.2" fill="#000"/>
<circle cx="432.00" cy="337.00" r="3.2" fill="#000"/>
<circle cx="440.50" cy="337.00" r="3.2" fill="#000"/>
<circle cx="436.25" cy="342.50" r="3.2" fill="#000"/>
<circle cx="459.50" cy="351.25" r="3.2" fill="#000"/>
<circle cx="455.50" cy="358.00" r="3.2" fill="#000"/>
<circle cx="459.50" cy="362.50" r="3.2" fill="#000"/>
<circle cx="463.75" cy="362.50" r="3.2" fill="#000"/>
<circle cx="478.75" cy="346.75" r="3.2" fill="#000"/>
<circle cx="487.00" cy="342.50" r="3.2" fill="#000"/>
<circle cx="483.00" cy="358.00" r="3.2" fill="#000"/>
<circle cx="487.00" cy="362.00" r="3.2" fill="#000"/>
<circle cx="478.75" cy="367.50" r="3.2" fill="#000"/>
<circle cx="502.00" cy="348.00" r="3.2" fill="#000"/>
<circle cx="510.50" cy="348.00" r="3.2" fill="#000"/>
<circle cx="502.00" cy="357.00" r="3.2" fill="#000"/>
<circle cx="510.50" cy="358.00" r="3.2" fill="#000"/>
<circle cx="506.25" cy="362.00" r="3.2" fill="#000"/>
<text x="438.80" y="502.80" font-size="9.3" text-anchor="end" font-weight="bold" fill="#000" stroke="#000" stroke-width="0.35" transform="rotate(-90 438.8 502.8)">PGIA</text>
<text x="462.20" y="502.80" font-size="9.3" text-anchor="end" font-weight="bold" fill="#000" stroke="#000" stroke-width="0.35" transform="rotate(-90 462.2 502.8)">PGIA+BMT</text>
<text x="487.00" y="502.80" font-size="9.3" text-anchor="end" font-weight="bold" fill="#000" stroke="#000" stroke-width="0.35" transform="rotate(-90 487.0 502.8)">PGIA+BMT+250k Treg</text>
<text x="508.90" y="502.80" font-size="9.3" text-anchor="end" font-weight="bold" fill="#000" stroke="#000" stroke-width="0.35" transform="rotate(-90 508.9 502.8)">PGIA+BMT+500k Treg</text>
<text x="458.00" y="313.20" font-size="9.0" text-anchor="start" font-weight="normal" fill="#000" stroke="#000" stroke-width="0.3">TNF<tspan font-weight="bold" font-size="9.6" dx="1.3" dy="1.4" stroke-width="0.4">α</tspan></text>
<text x="406.50" y="412.20" font-size="8.5" text-anchor="middle" font-weight="bold" fill="#000" stroke="#000" stroke-width="0.35" transform="rotate(-90 406.5 412.2)">pg/ml</text>
</svg>
</body></html>
